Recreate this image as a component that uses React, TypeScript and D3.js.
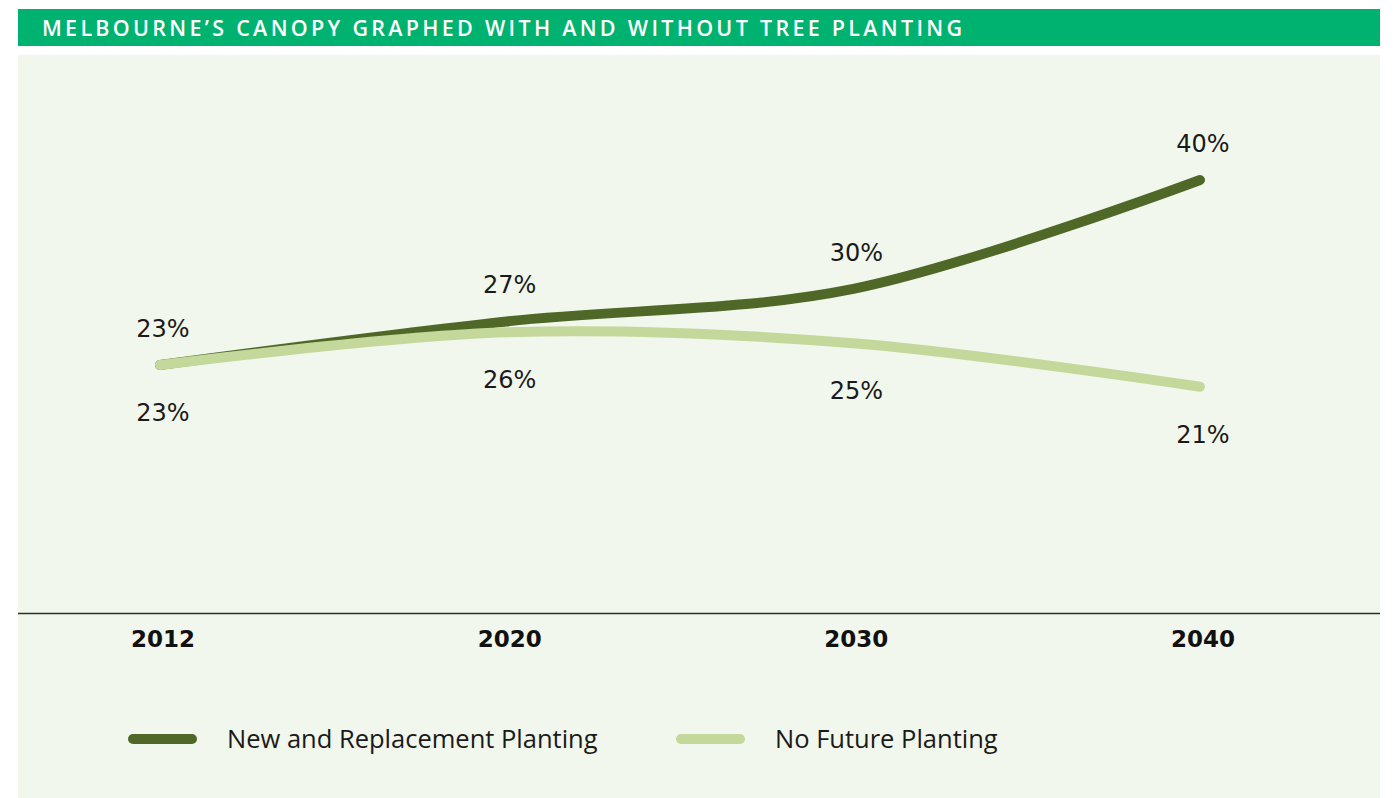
import React from 'react';
import * as d3 from 'd3';

// Chart data
const years = ['2012', '2020', '2030', '2040'];
const newPlanting = [23, 27, 30, 40];
const noPlanting = [23, 26, 25, 21];
const seriesNames = ['New and Replacement Planting', 'No Future Planting'];
const title = 'MELBOURNE’S CANOPY GRAPHED WITH AND WITHOUT TREE PLANTING';

const width = 1394;
const height = 798;
const darkGreen = '#4f6828';
const lightGreen = '#c4d89b';
const headerGreen = '#00b26f';
const panel = '#f1f7ec';

const App = () => {
  // Get the axis scales.
  const x = d3.scalePoint<string>().domain(years).range([160, 1200]);
  const y = d3.scaleLinear().domain([23, 40]).range([365, 180]);

  const line = d3
    .line<number>()
    .x((_, i) => x(years[i]) as number)
    .y((d) => y(d))
    .curve(d3.curveCatmullRom.alpha(0.5));

  const labelFont = '"DejaVu Sans", sans-serif';
  const textFont = '"Open Sans", sans-serif';

  return (
    <svg
      width={width}
      height={height}
      style={{ position: 'absolute', left: 0, top: 0 }}
    >
      {/* header */}
      <rect x={18} y={9} width={1362} height={37} fill={headerGreen} />
      <text
        x={42}
        y={36}
        fill="#fff"
        fontFamily={textFont}
        fontWeight={600}
        fontSize={21.5}
        textLength={920}
        lengthAdjust="spacing"
      >
        {title}
      </text>

      {/* panel */}
      <rect x={18} y={55} width={1362} height={743} fill={panel} />

      {/* axis */}
      <line x1={18} x2={1380} y1={613.5} y2={613.5} stroke="#2d2d2a" strokeWidth={1.5} />
      {years.map((yr) => (
        <text
          key={yr}
          x={x(yr)! + 3}
          y={647}
          textAnchor="middle"
          fontFamily={labelFont}
          fontWeight="bold"
          fontSize={23}
          fill="#111"
        >
          {yr}
        </text>
      ))}

      {/* lines */}
      <path
        d={line(newPlanting) ?? ''}
        fill="none"
        stroke={darkGreen}
        strokeWidth={10}
        strokeLinecap="round"
      />
      <path
        d={line(noPlanting) ?? ''}
        fill="none"
        stroke={lightGreen}
        strokeWidth={10}
        strokeLinecap="round"
      />

      {/* value labels */}
      {newPlanting.map((v, i) => (
        <text
          key={'n' + i}
          x={x(years[i])! + 3}
          y={y(v) - 28}
          textAnchor="middle"
          fontFamily={labelFont}
          fontSize={24}
          fill="#1a1a1a"
        >
          {v}%
        </text>
      ))}
      {noPlanting.map((v, i) => (
        <text
          key={'o' + i}
          x={x(years[i])! + 3}
          y={y(v) + 56}
          textAnchor="middle"
          fontFamily={labelFont}
          fontSize={24}
          fill="#1a1a1a"
        >
          {v}%
        </text>
      ))}

      {/* legend */}
      {seriesNames.map((name, i) => {
        const lx = i === 0 ? 133 : 681;
        return (
          <g key={name}>
            <line
              x1={lx}
              x2={lx + 59}
              y1={739}
              y2={739}
              stroke={i === 0 ? darkGreen : lightGreen}
              strokeWidth={10}
              strokeLinecap="round"
            />
            <text
              x={lx + 94}
              y={748}
              fontFamily={textFont}
              fontSize={25.5}
              fill="#1a1a1a"
            >
              {name}
            </text>
          </g>
        );
      })}
    </svg>
  );
};

export default App;
